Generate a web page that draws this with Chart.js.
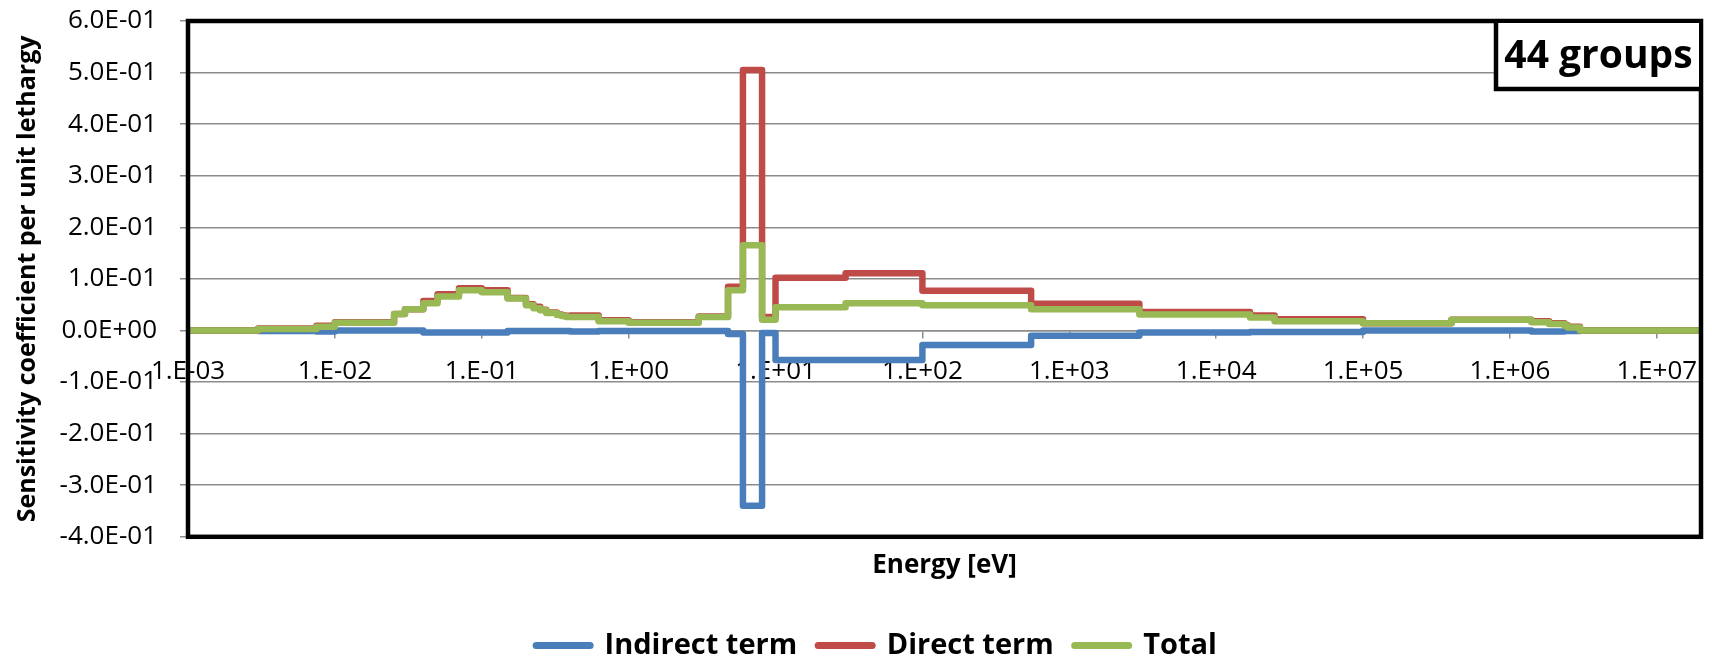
<!DOCTYPE html>
<html>
<head>
<meta charset="utf-8">
<script src="https://cdn.jsdelivr.net/npm/chart.js@4.4.1/dist/chart.umd.min.js"></script>
<style>
  html, body { margin: 0; padding: 0; background: #ffffff; }
  #c { display: block; }
</style>
</head>
<body>
<canvas id="c" width="1712" height="662"></canvas>
<script>
// 44-group energy structure: lower edge of each group in eV (ascending)
const groupLowerEdges = [1e-5, 3e-3, 7.5e-3, 1e-2, 2.53e-2, 3e-2, 4e-2, 5e-2, 7e-2, 0.1,
  0.15, 0.2, 0.225, 0.25, 0.275, 0.325, 0.35, 0.375, 0.4, 0.625,
  1.0, 1.77, 3.0, 4.75, 6.0, 8.1, 10, 30, 100, 550,
  3000, 1.7e4, 2.5e4, 1e5, 4e5, 9e5, 1.4e6, 1.85e6, 2.354e6, 2.479e6,
  3e6, 4.8e6, 6.434e6, 8.187e6];
const groupTopEdge = 2e7;

// Sensitivity coefficient per unit lethargy, one value per group
const indirectTerm = [0, -0.001, -0.002, 0, 0, 0, -0.004, -0.004, -0.004, -0.004,
  -0.001, -0.001, -0.001, -0.001, -0.001, -0.001, -0.001, -0.001, -0.002, -0.001,
  -0.001, -0.001, -0.001, -0.007, -0.340, -0.005, -0.057, -0.057, -0.028, -0.010,
  -0.004, -0.003, -0.003, 0, 0, 0, -0.002, -0.002, -0.001, -0.001,
  0, 0, 0, 0];
const directTerm = [0, 0.004, 0.009, 0.016, 0.032, 0.041, 0.057, 0.070, 0.082, 0.078,
  0.063, 0.051, 0.046, 0.040, 0.035, 0.031, 0.029, 0.027, 0.029, 0.020,
  0.016, 0.016, 0.027, 0.085, 0.505, 0.026, 0.102, 0.111, 0.077, 0.052,
  0.036, 0.029, 0.022, 0.014, 0.021, 0.021, 0.018, 0.014, 0.010, 0.007,
  0, 0, 0, 0];
const totalSensitivity = [0, 0.003, 0.007, 0.015, 0.032, 0.041, 0.053, 0.066, 0.078, 0.074,
  0.062, 0.049, 0.043, 0.039, 0.034, 0.030, 0.028, 0.026, 0.026, 0.018,
  0.015, 0.015, 0.026, 0.078, 0.165, 0.021, 0.045, 0.053, 0.049, 0.041,
  0.031, 0.025, 0.018, 0.014, 0.021, 0.021, 0.016, 0.0125, 0.009, 0.006,
  0, 0, 0, 0];

const seriesNames = ['Indirect term', 'Direct term', 'Total'];

const xTickValues = [1e-3, 1e-2, 1e-1, 1e0, 1e1, 1e2, 1e3, 1e4, 1e5, 1e6, 1e7];
const xTickLabels = ['1.E-03', '1.E-02', '1.E-01', '1.E+00', '1.E+01', '1.E+02',
  '1.E+03', '1.E+04', '1.E+05', '1.E+06', '1.E+07'];
const yTickValues = [-0.4, -0.3, -0.2, -0.1, 0, 0.1, 0.2, 0.3, 0.4, 0.5, 0.6];
const yTickLabels = ['-4.0E-01', '-3.0E-01', '-2.0E-01', '-1.0E-01', '0.0E+00', '1.0E-01',
  '2.0E-01', '3.0E-01', '4.0E-01', '5.0E-01', '6.0E-01'];

const FONT = "'Open Sans', 'DejaVu Sans', sans-serif";
const GRID = '#8c8c8c';

// histogram points: each group value starts at its lower edge, last one closes at the top edge
function stepPoints(values) {
  const pts = groupLowerEdges.map((e, i) => ({ x: e, y: values[i] }));
  pts.push({ x: groupTopEdge, y: values[values.length - 1] });
  return pts;
}

function lineSeries(label, values, color, order) {
  return {
    label,
    data: stepPoints(values),
    borderColor: color,
    backgroundColor: color,
    borderWidth: 6.5,
    borderJoinStyle: 'round',
    borderCapStyle: 'round',
    stepped: 'before',
    pointRadius: 0,
    pointHoverRadius: 0,
    fill: false,
    clip: 0,
    order
  };
}

// black frame around the plot plus the boxed group-count label
const plotFrame = {
  id: 'plotFrame',
  afterDraw(chart) {
    const { ctx, chartArea: a } = chart;
    ctx.save();
    ctx.strokeStyle = '#000';
    ctx.lineWidth = 4.5;
    ctx.lineJoin = 'miter';
    ctx.strokeRect(a.left, a.top, a.right - a.left, a.bottom - a.top);

    const boxLeft = a.right - 205;
    const boxBottom = a.top + 68;
    ctx.fillStyle = '#fff';
    ctx.fillRect(boxLeft, a.top + 2, a.right - boxLeft - 2, boxBottom - a.top - 2);
    ctx.beginPath();
    ctx.moveTo(boxLeft, a.top);
    ctx.lineTo(boxLeft, boxBottom);
    ctx.lineTo(a.right, boxBottom);
    ctx.stroke();

    ctx.fillStyle = '#000';
    ctx.font = `bold 39px ${FONT}`;
    ctx.textAlign = 'center';
    ctx.textBaseline = 'alphabetic';
    ctx.fillText('44 groups', (boxLeft + a.right) / 2, a.top + 47);
    ctx.restore();
  }
};

new Chart(document.getElementById('c'), {
  type: 'line',
  data: {
    datasets: [
      lineSeries(seriesNames[0], indirectTerm, '#4a7ebb', 2),
      lineSeries(seriesNames[1], directTerm, '#be4b48', 1),
      lineSeries(seriesNames[2], totalSensitivity, '#98b954', 0)
    ]
  },
  options: {
    responsive: false,
    animation: false,
    events: [],
    layout: { padding: { left: 52, right: 11, top: 21, bottom: 0 } },
    scales: {
      x: {
        type: 'logarithmic',
        position: { y: 0 },
        min: 1e-3,
        max: groupTopEdge,
        afterBuildTicks(scale) {
          scale.ticks = xTickValues.map(v => ({ value: v, major: true }));
        },
        afterFit(scale) {
          scale.paddingLeft = 0;
          scale.paddingRight = 0;
        },
        ticks: {
          autoSkip: false,
          maxRotation: 0,
          minRotation: 0,
          padding: 19,
          color: '#000',
          font: { family: FONT, size: 26 },
          callback: (v, i) => xTickLabels[i]
        },
        grid: {
          drawOnChartArea: false,
          drawTicks: true,
          tickLength: 7,
          color: GRID,
          lineWidth: 1.5
        },
        border: { display: true, color: GRID, width: 1.5 }
      },
      y: {
        type: 'linear',
        position: 'left',
        min: -0.4,
        max: 0.6,
        afterBuildTicks(scale) {
          scale.ticks = yTickValues.map(v => ({ value: v }));
        },
        afterFit(scale) {
          scale.width = 136;
          scale.paddingTop = 0;
          scale.paddingBottom = 0;
        },
        ticks: {
          padding: 23,
          color: '#000',
          font: { family: FONT, size: 26 },
          callback: (v, i) => yTickLabels[i]
        },
        grid: {
          drawTicks: true,
          tickLength: 8,
          color: GRID,
          lineWidth: 1.5
        },
        border: { display: false },
        title: {
          display: true,
          text: 'Sensitivity coefficient per unit lethargy',
          color: '#000',
          font: { family: FONT, size: 25, weight: 'bold' },
          padding: { top: -39, bottom: 0 }
        }
      }
    },
    plugins: {
      tooltip: { enabled: false },
      title: {
        display: true,
        text: 'Energy [eV]',
        position: 'bottom',
        fullSize: false,
        weight: 500,
        color: '#000',
        font: { family: FONT, size: 26, weight: 'bold' },
        padding: { top: 13, bottom: 29 }
      },
      legend: {
        display: true,
        position: 'bottom',
        maxHeight: 52,
        labels: {
          usePointStyle: true,
          pointStyle: 'line',
          pointStyleWidth: 54,
          padding: 21,
          color: '#000',
          font: { family: FONT, size: 29, weight: 'bold' },
          sort: (a, b) => a.datasetIndex - b.datasetIndex,
          generateLabels(chart) {
            const items = Chart.defaults.plugins.legend.labels.generateLabels(chart);
            items.forEach(it => { it.lineWidth = 7; it.lineCap = 'round'; it.pointStyle = 'line'; });
            return items;
          }
        }
      }
    }
  },
  plugins: [plotFrame]
});
</script>
</body>
</html>
